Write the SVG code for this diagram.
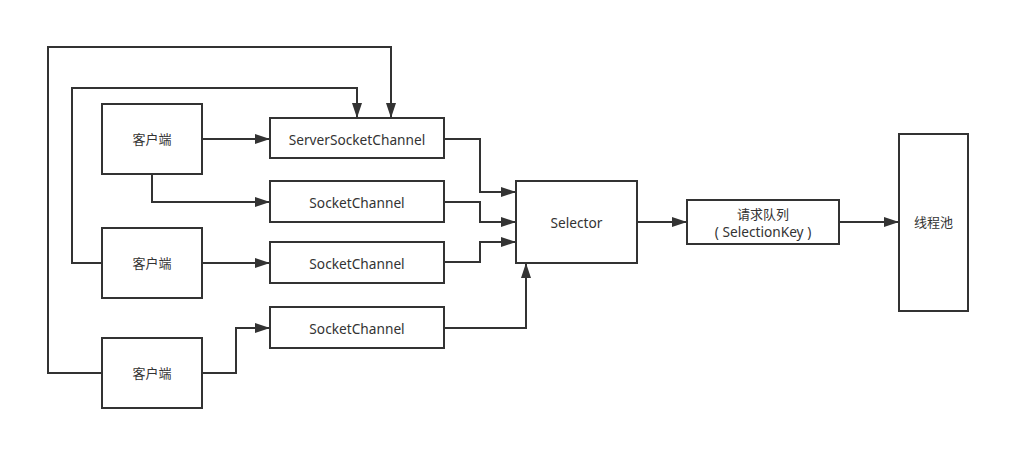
<svg xmlns="http://www.w3.org/2000/svg" width="1030" height="469" viewBox="0 0 1030 469">
<defs>
<style>
.box{fill:#fff;stroke:#333;stroke-width:2}
.lbl{font-family:"Noto Sans","Noto Sans CJK SC",sans-serif;font-size:13px;fill:#333;text-anchor:middle;dominant-baseline:central}
.en{font-size:13.7px}
.edge{fill:none;stroke:#333;stroke-width:2;marker-end:url(#arr)}
</style>
<marker id="arr" markerUnits="userSpaceOnUse" markerWidth="16" markerHeight="11" refX="15" refY="5" orient="auto">
<path d="M0,0 L15,5 L0,10 z" fill="#333"/>
</marker>
</defs>
<rect width="1030" height="469" fill="#fff"/>
<g id="connectors">
<path class="edge" d="M202,139 H270"/>
<path class="edge" d="M152,174 V202 H270"/>
<path class="edge" d="M202,263 H270"/>
<path class="edge" d="M202,373 H236 V328 H270"/>
<path class="edge" d="M102,263 H72 V88 H357 V118"/>
<path class="edge" d="M102,373 H48 V47 H391 V118"/>
<path class="edge" d="M444,139 H480 V192 H516"/>
<path class="edge" d="M444,202 H480 V222 H516"/>
<path class="edge" d="M444,262 H480 V242 H516"/>
<path class="edge" d="M444,328 H526 V263"/>
<path class="edge" d="M637,222 H687"/>
<path class="edge" d="M839,222 H899"/>
</g>
<g id="client1"><rect class="box" x="102" y="104" width="100" height="70"/><text class="lbl" x="152" y="139">客户端</text></g>
<g id="client2"><rect class="box" x="102" y="228" width="100" height="70"/><text class="lbl" x="152" y="263">客户端</text></g>
<g id="client3"><rect class="box" x="102" y="338" width="100" height="70"/><text class="lbl" x="152" y="373">客户端</text></g>
<g id="serverSocketChannel"><rect class="box" x="270" y="118" width="174" height="40"/><text class="lbl en" x="357" y="139">ServerSocketChannel</text></g>
<g id="socketChannel1"><rect class="box" x="270" y="181" width="174" height="41"/><text class="lbl en" x="357" y="202">SocketChannel</text></g>
<g id="socketChannel2"><rect class="box" x="270" y="242" width="174" height="41"/><text class="lbl en" x="357" y="263">SocketChannel</text></g>
<g id="socketChannel3"><rect class="box" x="270" y="307" width="174" height="41"/><text class="lbl en" x="357" y="328">SocketChannel</text></g>
<g id="selector"><rect class="box" x="516" y="181" width="121" height="82"/><text class="lbl en" x="576.5" y="222">Selector</text></g>
<g id="queue"><rect class="box" x="687" y="200" width="152" height="44"/><text class="lbl" x="763" y="214">请求队列</text><text class="lbl en" x="763" y="231">( SelectionKey )</text></g>
<g id="threadPool"><rect class="box" x="899" y="134" width="69" height="177"/><text class="lbl" x="933.5" y="222">线程池</text></g>
</svg>
